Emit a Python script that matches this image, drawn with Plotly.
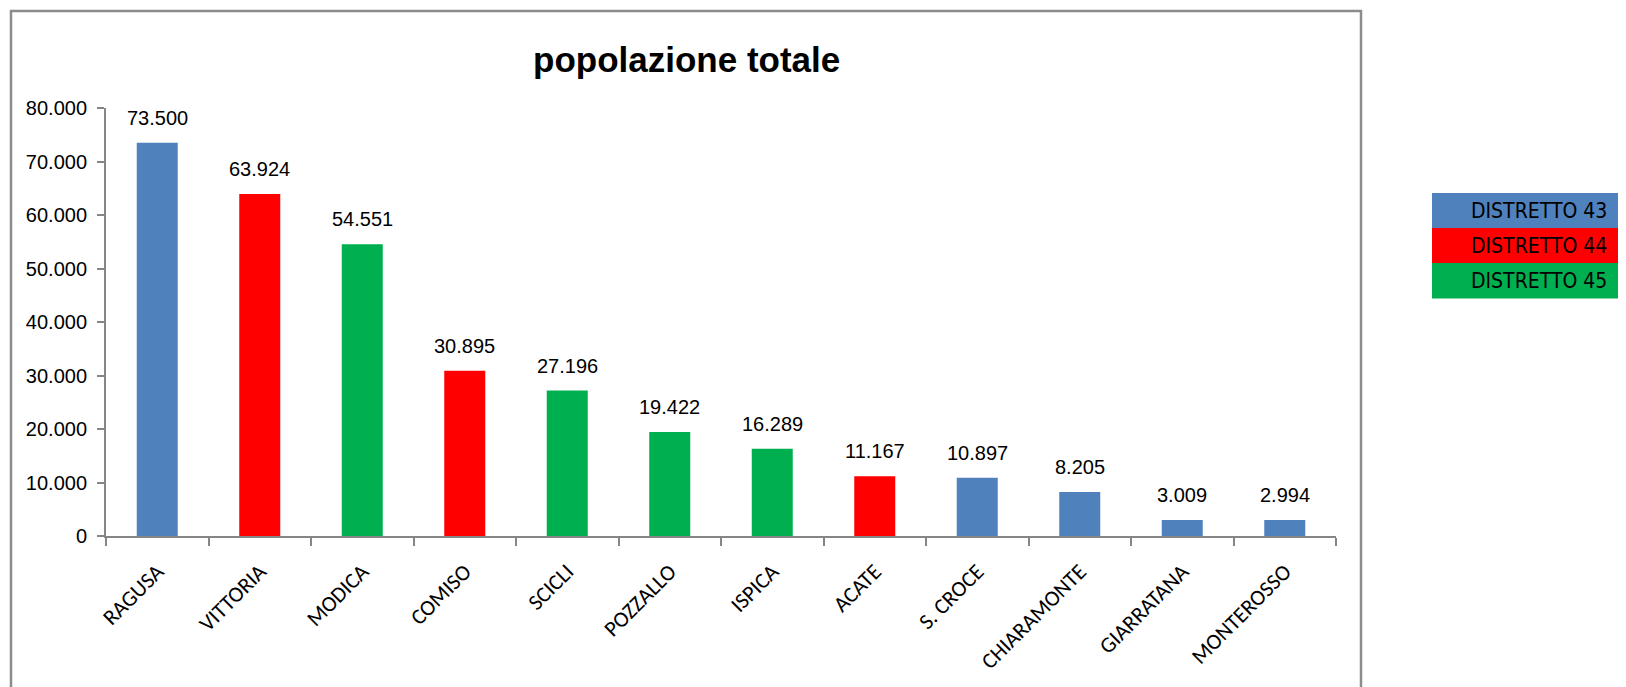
import plotly.graph_objects as go

comuni = ["RAGUSA", "VITTORIA", "MODICA", "COMISO", "SCICLI", "POZZALLO", "ISPICA",
          "ACATE", "S. CROCE", "CHIARAMONTE", "GIARRATANA", "MONTEROSSO"]
popolazione = [73500, 63924, 54551, 30895, 27196, 19422, 16289, 11167, 10897, 8205, 3009, 2994]
distretto = [43, 44, 45, 44, 45, 45, 45, 44, 43, 43, 43, 43]

distretti = [43, 44, 45]
distretto_labels = ["DISTRETTO 43", "DISTRETTO 44", "DISTRETTO 45"]
distretto_colori = ["#4F81BD", "#FF0000", "#00B050"]

y_ticks = [0, 10000, 20000, 30000, 40000, 50000, 60000, 70000, 80000]

OFF = 8  # page body margin
W, H = 1626, 687
# plot area in page pixels
PL, PR, PT, PB = 106, 1336, 108, 536
L, R, T, B = PL - OFF, PR - OFF, PT - OFF, PB - OFF


def px(x):
    return (x - PL) / (PR - PL)


def py(y):
    return (PB - y) / (PB - PT)


col_map = dict(zip(distretti, distretto_colori))
bar_colors = [col_map[d] for d in distretto]

fig = go.Figure()
fig.add_trace(go.Bar(
    x=comuni, y=popolazione, marker=dict(color=bar_colors, line=dict(width=0)),
    showlegend=False, hoverinfo="x+y",
))

num_font = dict(family="Liberation Sans, Arial", size=20, color="#000000")

annotations = []
for c, v in zip(comuni, popolazione):
    annotations.append(dict(
        x=c, y=v, xref="x", yref="y", text=f"{v:,}".replace(",", "."),
        showarrow=False, yanchor="bottom", yshift=12, font=num_font,
    ))

title_font = dict(family="Liberation Sans, Arial", size=35, color="#000000", weight="bold")
annotations.append(dict(
    x=px(686), y=py(60), xref="paper", yref="paper", text="popolazione totale",
    showarrow=False, xanchor="center", yanchor="middle", font=title_font,
))

shapes = [dict(type="rect", xref="paper", yref="paper",
               x0=px(11), x1=px(1361), y0=py(720), y1=py(11),
               line=dict(color="#8C8C8C", width=2.5), fillcolor="rgba(0,0,0,0)", layer="below")]

row_tops = [193, 228, 263]
row_h = 35.5
for lab, col, top in zip(distretto_labels, distretto_colori, row_tops):
    shapes.append(dict(type="rect", xref="paper", yref="paper",
                       x0=px(1432), x1=px(1640), y0=py(top + row_h), y1=py(top),
                       line=dict(width=0), fillcolor=col))
    annotations.append(dict(
        x=px(1609), y=py(top + row_h / 2), xref="paper", yref="paper", text=lab,
        showarrow=False, xanchor="right", yanchor="middle",
        font=dict(family="DejaVu Sans Condensed, DejaVu Sans", size=21, color="#000000"),
    ))

fig.update_layout(
    width=W, height=H,
    margin=dict(l=L, r=W - R, t=T, b=H - B, autoexpand=False),
    paper_bgcolor="white", plot_bgcolor="white",
    separators=",.",
    bargap=0.6,
    annotations=annotations, shapes=shapes,
    showlegend=False,
)
fig.update_xaxes(
    showline=True, linecolor="#868686", linewidth=2,
    ticks="outside", ticklen=8, tickcolor="#868686", tickwidth=1.5,
    tickson="boundaries",
    tickangle=-45, ticklabelstandoff=12,
    tickfont=dict(family="Carlito, Lato, Open Sans, sans-serif", size=22, color="#000000"),
    showgrid=False, zeroline=False,
)
fig.update_yaxes(
    range=[0, 80000], tickvals=y_ticks, tickformat=",.0f",
    showline=True, linecolor="#868686", linewidth=2,
    ticks="outside", ticklen=7, tickcolor="#868686", tickwidth=1.5,
    tickfont=num_font,
    showgrid=False, zeroline=False, ticklabelstandoff=6,
)

fig.write_html("out.html")
